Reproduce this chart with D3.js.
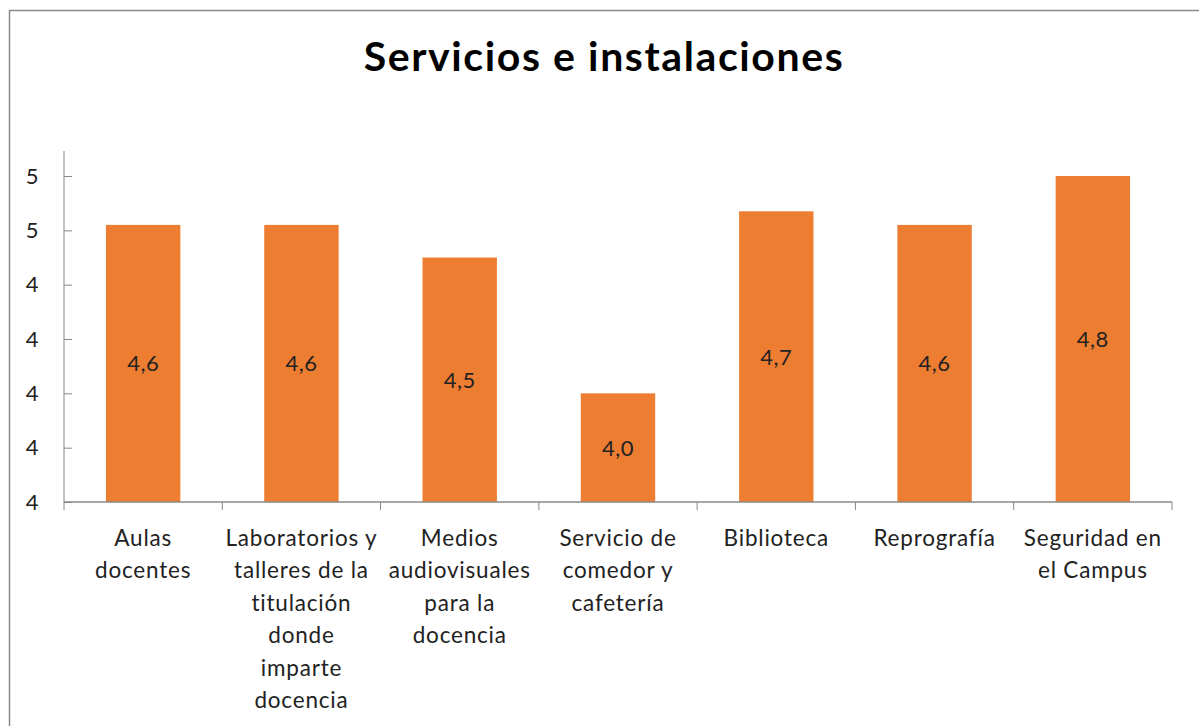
<!DOCTYPE html>
<html>
<head>
<meta charset="utf-8">
<script src="https://cdn.jsdelivr.net/npm/d3@7"></script>
<style>
  body { margin: 0; background: #fff; }
  text { font-family: Lato, "Open Sans", sans-serif; fill: #222; }
</style>
</head>
<body>
<div id="chart"></div>
<script>
const categories = [
  ["Aulas", "docentes"],
  ["Laboratorios y", "talleres de la", "titulación", "donde", "imparte", "docencia"],
  ["Medios", "audiovisuales", "para la", "docencia"],
  ["Servicio de", "comedor y", "cafetería"],
  ["Biblioteca"],
  ["Reprografía"],
  ["Seguridad en", "el Campus"]
];
const values = [4.62, 4.62, 4.50, 4.00, 4.67, 4.62, 4.80];
const yTicks = [3.6, 3.8, 4.0, 4.2, 4.4, 4.6, 4.8];
const title = "Servicios e instalaciones";

const W = 1199, H = 726;
const margin = {top: 151, left: 64, right: 27, bottom: 224};

const svg = d3.select("#chart").append("svg")
  .attr("width", W)
  .attr("height", H);

// chart frame (only top and left edges are visible in the crop)
svg.append("path")
  .attr("d", `M9.5,${H} V10.5 H${W}`)
  .attr("fill", "none")
  .attr("stroke", "#8a8a8a")
  .attr("stroke-width", 1.5);

svg.append("text")
  .attr("x", 604)
  .attr("y", 71)
  .attr("text-anchor", "middle")
  .style("font-size", "41px")
  .style("font-weight", "bold")
  .style("letter-spacing", "1.6px")
  .style("fill", "#000")
  .text(title);

const x = d3.scaleBand()
  .domain(d3.range(categories.length))
  .range([margin.left, W - margin.right])
  .paddingInner(0.53)
  .paddingOuter(0.265);

const y = d3.scaleLinear()
  .domain([3.6, 4.8])
  .range([H - margin.bottom, 176]);

const y0 = H - margin.bottom;

// bars
svg.selectAll(".bar")
  .data(values)
  .join("rect")
  .attr("class", "bar")
  .attr("x", (d, i) => x(i))
  .attr("width", x.bandwidth())
  .attr("y", d => y(d))
  .attr("height", d => y0 - y(d))
  .attr("fill", "#ed7d31");

// value labels
const fmt = d => d3.format(".1f")(d).replace(".", ",");
svg.selectAll(".val")
  .data(values)
  .join("text")
  .attr("class", "val")
  .attr("x", (d, i) => x(i) + x.bandwidth() / 2)
  .attr("y", d => (y(d) + y0) / 2)
  .attr("dy", "0.36em")
  .attr("text-anchor", "middle")
  .style("font-size", "22px")
  .style("letter-spacing", "0.5px")
  .text(fmt);

// y axis
const yAxis = svg.append("g")
  .attr("transform", `translate(${margin.left},0)`)
  .call(d3.axisRight(y).tickValues(yTicks).tickSize(8).tickFormat(d3.format(".0f")));
yAxis.select(".domain").remove();
yAxis.append("line")
  .attr("y1", margin.top).attr("y2", y0)
  .attr("stroke", "#888");
yAxis.selectAll(".tick line").attr("stroke", "#888");
yAxis.selectAll(".tick text")
  .attr("x", -32)
  .attr("text-anchor", "middle")
  .style("font-size", "22px")
  .style("font-family", "Lato, sans-serif")
  .attr("fill", "#222");

// x axis baseline + category separators
const edges = d3.range(categories.length + 1).map(i => margin.left + i * (W - margin.right - margin.left) / categories.length);
svg.append("line")
  .attr("x1", margin.left).attr("x2", W - margin.right)
  .attr("y1", y0).attr("y2", y0)
  .attr("stroke", "#888").attr("stroke-width", 1.5);
svg.selectAll(".sep")
  .data(edges)
  .join("line")
  .attr("class", "sep")
  .attr("x1", d => d).attr("x2", d => d)
  .attr("y1", y0).attr("y2", y0 + 8)
  .attr("stroke", "#888");

// category labels
const cat = svg.selectAll(".cat")
  .data(categories)
  .join("text")
  .attr("class", "cat")
  .attr("text-anchor", "middle")
  .style("font-size", "22.5px")
  .style("letter-spacing", "0.8px")
  .attr("transform", (d, i) => `translate(${x(i) + x.bandwidth() / 2},546)`);
cat.selectAll("tspan")
  .data(d => d)
  .join("tspan")
  .attr("x", 0)
  .attr("y", (d, j) => j * 32.4)
  .text(d => d);
</script>
</body>
</html>
